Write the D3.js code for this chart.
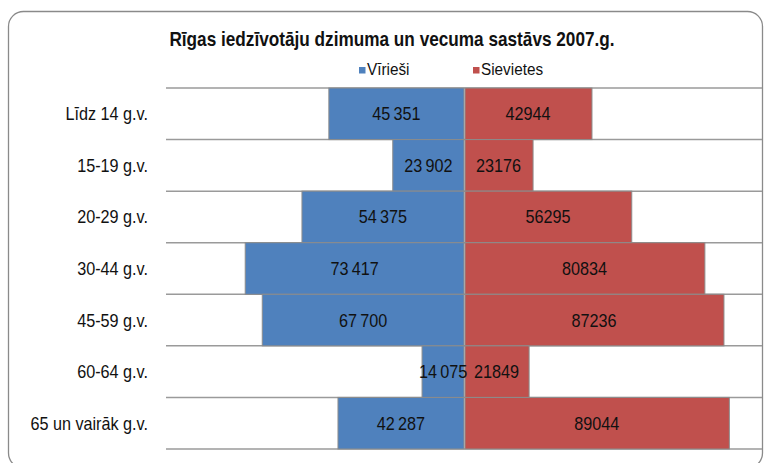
<!DOCTYPE html>
<html>
<head>
<meta charset="utf-8">
<script src="https://cdn.jsdelivr.net/npm/d3@7"></script>
<style>
  body { margin: 0; background: #fff; }
  text { font-family: "Liberation Sans", Arial, sans-serif; }
</style>
</head>
<body>
<div id="chart"></div>
<script>
// data
const categories = ["Līdz 14 g.v.", "15-19 g.v.", "20-29 g.v.", "30-44 g.v.", "45-59 g.v.", "60-64 g.v.", "65 un vairāk g.v."];
const men = [45351, 23902, 54375, 73417, 67700, 14075, 42287];
const women = [42944, 23176, 56295, 80834, 87236, 21849, 89044];
const seriesNames = ["Vīrieši", "Sievietes"];
const colors = ["#4F81BD", "#C0504D"];

const width = 764;
const height = 463;
const margin = ({top: 88, right: 2, bottom: 14, left: 166});
const squeeze = 0.9; // the original uses a narrow font

const svg = d3.create('svg')
    .attr('width', width)
    .attr('height', height);

// outer frame (bottom edge runs just past the picture)
svg.append('rect')
    .attr('x', 8.5)
    .attr('y', 11.5)
    .attr('width', 754)
    .attr('height', 456.5)
    .attr('rx', 15)
    .attr('fill', 'white')
    .attr('stroke', '#8a8a8a')
    .attr('stroke-width', 1.3);

const xScale = d3.scaleLinear()
    .domain([-100000, 100000])
    .range([margin.left, width - margin.right]);

const yScale = d3.scaleBand()
    .domain(categories)
    .range([margin.top, height - margin.bottom])
    .padding(0);

// gridlines at category boundaries
const bounds = categories.map(c => yScale(c)).concat([yScale.range()[1]]);
svg.append('g')
    .selectAll('line')
    .data(bounds)
    .join('line')
    .attr('x1', margin.left)
    .attr('x2', width - margin.right)
    .attr('y1', d => d)
    .attr('y2', d => d)
    .attr('stroke', '#9a9a9a')
    .attr('stroke-width', 1.5);

const rows = categories.map((c, i) => ({cat: c, men: men[i], women: women[i]}));

// men bars (left)
svg.append('g')
    .selectAll('rect')
    .data(rows)
    .join('rect')
    .attr('x', d => xScale(-d.men))
    .attr('y', d => yScale(d.cat))
    .attr('width', d => xScale(0) - xScale(-d.men))
    .attr('height', yScale.bandwidth())
    .attr('fill', colors[0])
    .attr('stroke', '#8c8c8c')
    .attr('stroke-width', 1);

// women bars (right)
svg.append('g')
    .selectAll('rect')
    .data(rows)
    .join('rect')
    .attr('x', xScale(0) + 1)
    .attr('y', d => yScale(d.cat))
    .attr('width', d => xScale(d.women) - xScale(0) - 1)
    .attr('height', yScale.bandwidth())
    .attr('fill', colors[1])
    .attr('stroke', '#8c8c8c')
    .attr('stroke-width', 1);

const fmtSpace = v => d3.format(',')(v).replace(/,/g, '\u2009');
const mid = d => yScale(d.cat) + yScale.bandwidth() / 2 + 6.5;

// data labels
svg.append('g')
    .selectAll('text')
    .data(rows)
    .join('text')
    .attr('transform', d => `translate(${(xScale(-d.men) + xScale(0)) / 2}, ${mid(d)}) scale(${squeeze}, 1)`)
    .attr('text-anchor', 'middle')
    .attr('font-size', 18)
    .attr('fill', '#111')
    .text(d => fmtSpace(d.men));

svg.append('g')
    .selectAll('text')
    .data(rows)
    .join('text')
    .attr('transform', d => `translate(${(xScale(0) + xScale(d.women)) / 2}, ${mid(d)}) scale(${squeeze}, 1)`)
    .attr('text-anchor', 'middle')
    .attr('font-size', 18)
    .attr('fill', '#111')
    .text(d => d.women);

// category axis
const yAxis = svg.append('g')
    .attr('transform', `translate(${margin.left - 18}, 0)`)
    .call(d3.axisLeft(yScale).tickSize(0).tickPadding(0));
yAxis.select('.domain').remove();
yAxis.selectAll('.tick text')
    .attr('x', 0)
    .attr('dy', '0.36em')
    .attr('transform', `scale(${squeeze}, 1)`)
    .attr('font-size', 18)
    .attr('fill', '#111')
    .style('font-family', '"Liberation Sans", Arial, sans-serif');

// title
svg.append('text')
    .attr('transform', 'translate(392, 46) scale(0.86, 1)')
    .attr('text-anchor', 'middle')
    .attr('font-size', 20)
    .attr('font-weight', 'bold')
    .attr('fill', '#111')
    .text('Rīgas iedzīvotāju dzimuma un vecuma sastāvs 2007.g.');

// legend
const legendX = [359, 473];
const legend = svg.append('g')
    .selectAll('g')
    .data(seriesNames)
    .join('g')
    .attr('transform', (d, i) => `translate(${legendX[i]}, 67)`);
legend.append('rect')
    .attr('width', 6.5)
    .attr('height', 6.5)
    .attr('fill', (d, i) => colors[i]);
legend.append('text')
    .attr('transform', `translate(8, 8) scale(${squeeze}, 1)`)
    .attr('font-size', 17)
    .attr('fill', '#111')
    .text(d => d);

document.getElementById("chart").appendChild(svg.node());
</script>
</body>
</html>
